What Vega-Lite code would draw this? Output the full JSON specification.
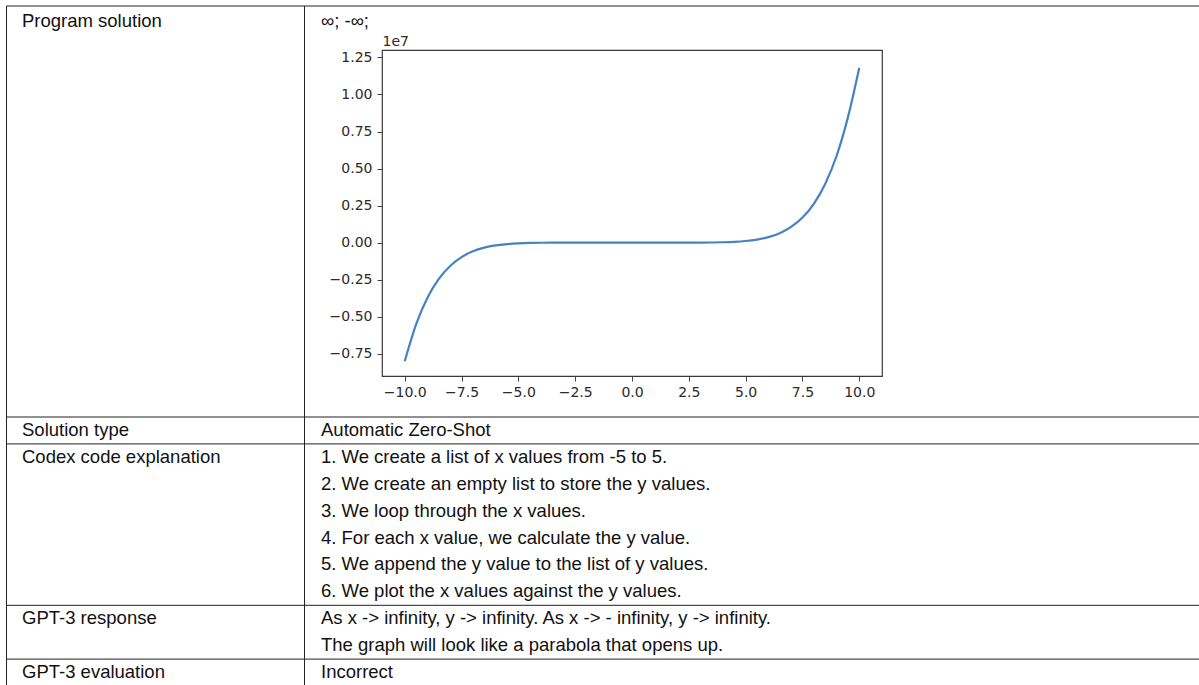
{
  "$schema": "https://vega.github.io/schema/vega-lite/v6.json",
  "width": 500,
  "height": 326,
  "autosize": {"type": "none"},
  "padding": {"left": 382, "top": 50, "right": 317, "bottom": 309},
  "background": "white",
  "config": {
    "view": {"stroke": "#3a3a3a", "strokeWidth": 1.2},
    "axis": {
      "labelFont": "DejaVu Sans",
      "labelFontSize": 14,
      "labelColor": "#2a2a2a",
      "tickColor": "#444",
      "tickSize": 5,
      "tickWidth": 1,
      "domain": false,
      "grid": false
    }
  },
  "layer": [
    {
      "data": {"values": [
        {"x": -10, "y": -8000000}, {"x": -9.5, "y": -5513189}, {"x": -9, "y": -3720087},
        {"x": -8.5, "y": -2451472}, {"x": -8, "y": -1572864}, {"x": -7.5, "y": -978882},
        {"x": -7, "y": -588245}, {"x": -6.5, "y": -339385}, {"x": -6, "y": -186624},
        {"x": -5.5, "y": -96883}, {"x": -5, "y": -46875}, {"x": -4.5, "y": -20759},
        {"x": -4, "y": -8192}, {"x": -3.5, "y": -2757}, {"x": -3, "y": -729},
        {"x": -2.5, "y": -122}, {"x": -2, "y": 0}, {"x": -1.5, "y": 6}, {"x": -1, "y": 1},
        {"x": -0.5, "y": 0}, {"x": 0, "y": 0}, {"x": 0.5, "y": 0}, {"x": 1, "y": 3},
        {"x": 1.5, "y": 40}, {"x": 2, "y": 256}, {"x": 2.5, "y": 1099}, {"x": 3, "y": 3645},
        {"x": 3.5, "y": 10111}, {"x": 4, "y": 24576}, {"x": 4.5, "y": 53975},
        {"x": 5, "y": 109375}, {"x": 5.5, "y": 207605}, {"x": 6, "y": 373248},
        {"x": 6.5, "y": 641061}, {"x": 7, "y": 1058841}, {"x": 7.5, "y": 1690796},
        {"x": 8, "y": 2621440}, {"x": 8.5, "y": 3960070}, {"x": 9, "y": 5845851},
        {"x": 9.5, "y": 8453557}, {"x": 10, "y": 11800000}
      ]},
      "mark": {"type": "line", "color": "#4582c3", "strokeWidth": 2.2, "interpolate": "monotone"},
      "encoding": {
        "x": {
          "field": "x", "type": "quantitative",
          "scale": {"domain": [-11, 11], "nice": false, "zero": false},
          "axis": {
            "values": [-10, -7.5, -5, -2.5, 0, 2.5, 5, 7.5, 10],
            "labelExpr": "replace(format(datum.value, '.1f'), '-', '\u2212')",
            "title": null,
            "labelPadding": 4
          }
        },
        "y": {
          "field": "y", "type": "quantitative",
          "scale": {"domain": [-9000000, 13000000], "nice": false, "zero": false},
          "axis": {
            "values": [-7500000, -5000000, -2500000, 0, 2500000, 5000000, 7500000, 10000000, 12500000],
            "labelExpr": "replace(format(datum.value / 10000000, '.2f'), '-', '\u2212')",
            "labelPadding": 5,
            "title": "1e7",
            "titleAngle": 0,
            "titleAlign": "left",
            "titleBaseline": "bottom",
            "titleX": 0,
            "titleY": -2,
            "titleFont": "DejaVu Sans",
            "titleFontSize": 14,
            "titleFontWeight": "normal",
            "titleColor": "#2a2a2a"
          }
        }
      }
    },
    {
      "data": {"values": [
        {"col": 0, "line": 0, "text": "Program solution"},
        {"col": 0, "line": 1, "text": "Solution type"},
        {"col": 0, "line": 2, "text": "Codex code explanation"},
        {"col": 0, "line": 8, "text": "GPT-3 response"},
        {"col": 0, "line": 10, "text": "GPT-3 evaluation"},
        {"col": 1, "line": 0, "text": "∞; -∞;"},
        {"col": 1, "line": 1, "text": "Automatic Zero-Shot"},
        {"col": 1, "line": 2, "text": "1. We create a list of x values from -5 to 5."},
        {"col": 1, "line": 3, "text": "2. We create an empty list to store the y values."},
        {"col": 1, "line": 4, "text": "3. We loop through the x values."},
        {"col": 1, "line": 5, "text": "4. For each x value, we calculate the y value."},
        {"col": 1, "line": 6, "text": "5. We append the y value to the list of y values."},
        {"col": 1, "line": 7, "text": "6. We plot the x values against the y values."},
        {"col": 1, "line": 8, "text": "As x -> infinity, y -> infinity. As x -> - infinity, y -> infinity."},
        {"col": 1, "line": 9, "text": "The graph will look like a parabola that opens up."},
        {"col": 1, "line": 10, "text": "Incorrect"}
      ]},
      "mark": {"type": "text", "align": "left", "baseline": "alphabetic", "dy": 5.5, "font": "Liberation Sans", "fontSize": 18.5, "color": "#111"},
      "encoding": {
        "x": {"field": "col", "type": "quantitative", "axis": null,
              "scale": {"domain": [-0.5, 0, 0.5, 1, 1.5], "range": [-375.5, -360, -77.5, -61, 828], "nice": false, "zero": false}},
        "y": {"field": "line", "type": "quantitative", "axis": null,
              "scale": {"domain": [-0.5, 0, 0.5, 10.5], "range": [-44, -28.8, 367, 636], "nice": false, "zero": false}},
        "text": {"field": "text", "type": "nominal"}
      }
    },
    {
      "data": {"values": [
        {"boundary": -0.5}, {"boundary": 0.5}, {"boundary": 1.5}, {"boundary": 7.5}, {"boundary": 9.5}
      ]},
      "mark": {"type": "rule", "color": "#222", "strokeWidth": 1},
      "encoding": {
        "y": {"field": "boundary", "type": "quantitative", "axis": null,
              "scale": {"domain": [-0.5, 0, 0.5, 10.5], "range": [-44, -28.8, 367, 636], "nice": false, "zero": false}},
        "x": {"datum": -0.5, "type": "quantitative", "axis": null,
              "scale": {"domain": [-0.5, 0, 0.5, 1, 1.5], "range": [-375.5, -360, -77.5, -61, 828], "nice": false, "zero": false}},
        "x2": {"datum": 1.5}
      }
    },
    {
      "data": {"values": [
        {"colBoundary": -0.5}, {"colBoundary": 0.5}
      ]},
      "mark": {"type": "rule", "color": "#222", "strokeWidth": 1},
      "encoding": {
        "x": {"field": "colBoundary", "type": "quantitative", "axis": null,
              "scale": {"domain": [-0.5, 0, 0.5, 1, 1.5], "range": [-375.5, -360, -77.5, -61, 828], "nice": false, "zero": false}},
        "y": {"datum": -0.5, "type": "quantitative", "axis": null,
              "scale": {"domain": [-0.5, 0, 0.5, 10.5], "range": [-44, -28.8, 367, 636], "nice": false, "zero": false}},
        "y2": {"datum": 10.7}
      }
    }
  ],
  "resolve": {
    "scale": {"x": "independent", "y": "independent"},
    "axis": {"x": "independent", "y": "independent"}
  }
}
